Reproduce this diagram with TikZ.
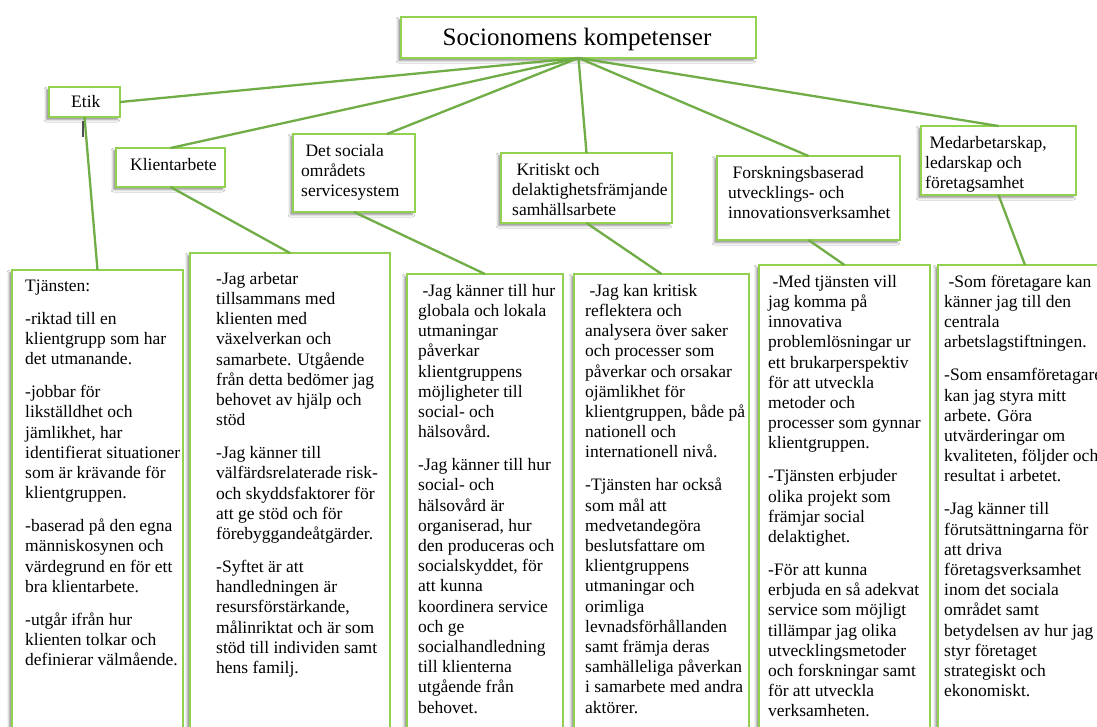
\documentclass[tikz,border=0pt]{standalone}
\usepackage{fontspec}
\setmainfont{Liberation Serif}
\usetikzlibrary{shadows.blur,calc}

\definecolor{linkgreen}{RGB}{112,173,71}
\definecolor{framegreen}{RGB}{146,208,80}
\definecolor{cursorgray}{RGB}{80,80,80}

% paragraph break inside a text block
\newcommand\pbreak{\\[12.8pt]}
\newcommand\lead{\hspace*{4.4pt}}

\tikzset{
  card/.style={draw=framegreen, line width=1.3pt, fill=white, inner sep=0pt,
    outer sep=0pt, anchor=north west,
    blur shadow={shadow xshift=-2.6pt, shadow yshift=-2.6pt,
      shadow blur radius=2.4pt, shadow opacity=45}},
  link/.style={draw=linkgreen, line width=2.3pt},
  headtext/.style={anchor=north west, inner sep=0pt, align=left,
    font=\fontsize{17.5}{20}\selectfont},
  bodytext/.style={anchor=north west, inner sep=0pt, align=left,
    font=\fontsize{17.5}{20.2}\selectfont},
}

\begin{document}
\begin{tikzpicture}[x=1pt, y=-1pt]
\useasboundingbox (0,0) rectangle (1097,726);
\fill[white] (0,0) rectangle (1097,726);
\clip (0,0) rectangle (1097,726);

% ---------- root ----------
\node[card, minimum width=355pt, minimum height=41pt] (top) at (401,17) {};
\node[anchor=base, inner sep=0pt, font=\fontsize{25}{30}\selectfont] (toptitle)
  at (577,45) {Socionomens kompetenser};

% ---------- headings ----------
\node[card, minimum width=71pt, minimum height=30pt] (etik) at (49,87) {};
\node[headtext] (etiktext) at (71,93) {\strut Etik};

\node[card, minimum width=109pt, minimum height=39pt] (klient) at (116,148) {};
\node[headtext] (klienttext) at (130,156) {\strut Klientarbete};

\node[card, minimum width=122pt, minimum height=78pt] (social) at (293,134) {};
\node[headtext] (socialtext) at (301,142) {\strut\lead Det sociala\\ områdets\\ servicesystem};

\node[card, minimum width=171pt, minimum height=70pt] (krit) at (501,153) {};
\node[headtext] (krittext) at (512,161) {\strut\lead Kritiskt och\\ delaktighetsfrämjande\\ samhällsarbete};

\node[card, minimum width=183pt, minimum height=84pt] (forsk) at (717,156) {};
\node[headtext] (forsktext) at (728,164) {\strut\lead Forskningsbaserad\\ utvecklings- och\\ innovationsverksamhet};

\node[card, minimum width=155pt, minimum height=69pt] (med) at (921,126) {};
\node[headtext] (medtext) at (925,134) {\strut\lead Medarbetarskap,\\ ledarskap och\\ företagsamhet};

% ---------- detail boxes ----------
\node[card, minimum width=171pt, minimum height=470pt] (b1) at (12,270) {};
\node[bodytext] (b1text) at (25,277) {\strut Tjänsten:\pbreak
-riktad till en\\ klientgrupp som har\\ det utmanande.\pbreak
-jobbar för\\ likställdhet och\\ jämlikhet, har\\ identifierat situationer\\ som är krävande för\\ klientgruppen.\pbreak
-baserad på den egna\\ människosynen och\\ värdegrund en för ett\\ bra klientarbete.\pbreak
-utgår ifrån hur\\ klienten tolkar och\\ definierar välmående.};

\node[card, minimum width=200pt, minimum height=490pt] (b2) at (190,253) {};
\node[bodytext] (b2text) at (216,270) {\strut -Jag arbetar\\ tillsammans med\\ klienten med\\ växelverkan och\\ samarbete. Utgående\\ från detta bedömer jag\\ behovet av hjälp och\\ stöd\pbreak
-Jag känner till\\ välfärdsrelaterade risk-\\ och skyddsfaktorer för\\ att ge stöd och för\\ förebyggandeåtgärder.\pbreak
-Syftet är att\\ handledningen är\\ resursförstärkande,\\ målinriktat och är som\\ stöd till individen samt\\ hens familj.};

\node[card, minimum width=156pt, minimum height=470pt] (b3) at (407,274) {};
\node[bodytext] (b3text) at (418,282) {\strut\lead -Jag känner till hur\\ globala och lokala\\ utmaningar\\ påverkar\\ klientgruppens\\ möjligheter till\\ social- och\\ hälsovård.\pbreak
-Jag känner till hur\\ social- och\\ hälsovård är\\ organiserad, hur\\ den produceras och\\ socialskyddet, för\\ att kunna\\ koordinera service\\ och ge\\ socialhandledning\\ till klienterna\\ utgående från\\ behovet.};

\node[card, minimum width=175pt, minimum height=470pt] (b4) at (574,274) {};
\node[bodytext] (b4text) at (585,282) {\strut\lead -Jag kan kritisk\\ reflektera och\\ analysera över saker\\ och processer som\\ påverkar och orsakar\\ ojämlikhet för\\ klientgruppen, både på\\ nationell och\\ internationell nivå.\pbreak
-Tjänsten har också\\ som mål att\\ medvetandegöra\\ beslutsfattare om\\ klientgruppens\\ utmaningar och\\ orimliga\\ levnadsförhållanden\\ samt främja deras\\ samhälleliga påverkan\\ i samarbete med andra\\ aktörer.};

\node[card, minimum width=171pt, minimum height=480pt] (b5) at (759,265) {};
\node[bodytext] (b5text) at (768,273) {\strut\lead -Med tjänsten vill\\ jag komma på\\ innovativa\\ problemlösningar ur\\ ett brukarperspektiv\\ för att utveckla\\ metoder och\\ processer som gynnar\\ klientgruppen.\pbreak
-Tjänsten erbjuder\\ olika projekt som\\ främjar social\\ delaktighet.\pbreak
-För att kunna\\ erbjuda en så adekvat\\ service som möjligt\\ tillämpar jag olika\\ utvecklingsmetoder\\ och forskningar samt\\ för att utveckla\\ verksamheten.};

\node[card, minimum width=174pt, minimum height=480pt] (b6) at (938,265) {};
\node[bodytext] (b6text) at (944,273) {\strut\lead -Som företagare kan\\ känner jag till den\\ centrala\\ arbetslagstiftningen.\pbreak
-Som ensamföretagare\\ kan jag styra mitt\\ arbete. Göra\\ utvärderingar om\\ kvaliteten, följder och\\ resultat i arbetet.\pbreak
-Jag känner till\\ förutsättningarna för\\ att driva\\ företagsverksamhet\\ inom det sociala\\ området samt\\ betydelsen av hur jag\\ styr företaget\\ strategiskt och\\ ekonomiskt.};

% ---------- connectors ----------
\draw[link] (top.south) -- (etik.east);
\draw[link] (top.south) -- (klient.north);
\draw[link] (top.south) -- ($(social.north west)!0.77!(social.north east)$);
\draw[link] (top.south) -- (krit.north);
\draw[link] (top.south) -- (forsk.north);
\draw[link] (top.south) -- (med.north);

\draw[link] (etik.south) -- (b1.north);
\draw[link] (klient.south) -- (b2.north);
\draw[link] (social.south) -- (b3.north);
\draw[link] (krit.south) -- (b4.north);
\draw[link] (forsk.south) -- (b5.north);
\draw[link] (med.south) -- (b6.north);

% text cursor mark under the ethics heading
\coordinate (caret) at ($(etik.south)+(-1.5,4)$);
\draw[cursorgray, line width=1.4pt] (caret) -- ++(0,16);
\end{tikzpicture}
\end{document}
